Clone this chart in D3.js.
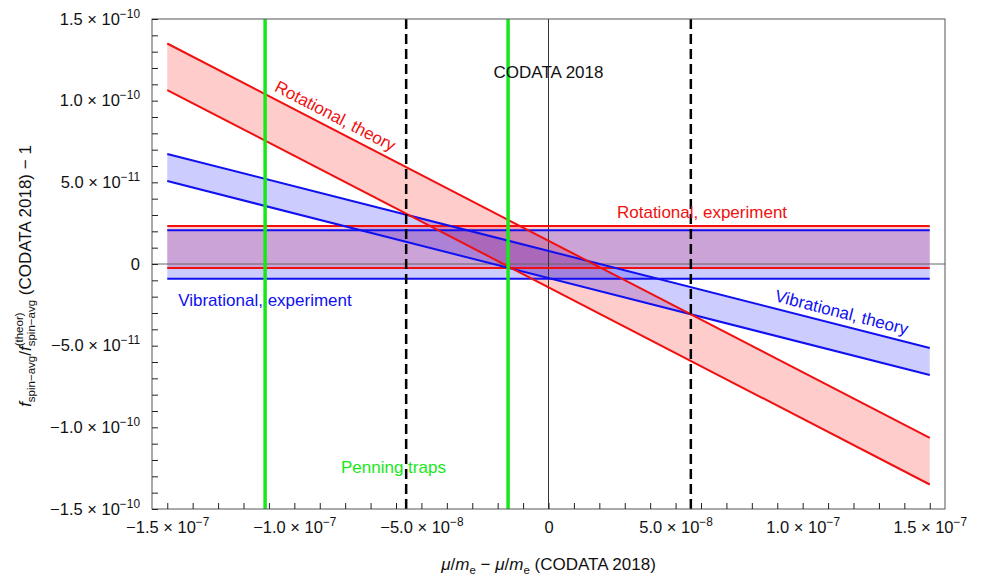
<!DOCTYPE html>
<html>
<head>
<meta charset="utf-8">
<script src="https://cdn.jsdelivr.net/npm/d3@7"></script>
<style>
  body { margin: 0; background: #fff; }
  svg { font-family: "Liberation Sans", Arial, sans-serif; }
</style>
</head>
<body>
<div id="chart"></div>
<script>
// values
const xEnds = [-1.5e-7, 1.5e-7];
const rotTheoryUpper = [1.35e-10, -1.065e-10];
const rotTheoryLower = [1.065e-10, -1.35e-10];
const vibTheoryUpper = [6.74e-11, -5.14e-11];
const vibTheoryLower = [5.08e-11, -6.8e-11];
const rotExp = [2.33e-11, -2.4e-12];
const vibExp = [2.06e-11, -9.0e-12];
const penningX = [-1.115e-7, -1.59e-8];
const codataX = [-5.6e-8, 5.6e-8];
const xTickLabels = [-1.5e-7, -1.0e-7, -5.0e-8, 0, 5.0e-8, 1.0e-7, 1.5e-7];
const yTickLabels = [-1.5e-10, -1.0e-10, -5.0e-11, 0, 5.0e-11, 1.0e-10, 1.5e-10];

const red = "#f01010", blue = "#1010f0", green = "#18e818";

const W = 985, H = 577;
const margin = { top: 19, right: 40, bottom: 68, left: 152 };

const svg = d3.select("#chart").append("svg")
  .attr("width", W).attr("height", H);

const x = d3.scaleLinear().domain([-1.56e-7, 1.56e-7]).range([margin.left, W - margin.right]);
const y = d3.scaleLinear().domain([-1.5e-10, 1.5e-10]).range([H - margin.bottom, margin.top]);

const plot = svg.append("g");

// bands
function slopedBand(up, lo, color) {
  const pts = xEnds.map((xv, i) => ({ x: xv, a: up[i], b: lo[i] }));
  plot.append("path").datum(pts)
    .attr("d", d3.area().x(d => x(d.x)).y0(d => y(d.b)).y1(d => y(d.a)))
    .attr("fill", color).attr("fill-opacity", 0.2);
}
function flatBand(lim, color) {
  plot.append("rect")
    .attr("x", x(xEnds[0])).attr("width", x(xEnds[1]) - x(xEnds[0]))
    .attr("y", y(lim[0])).attr("height", y(lim[1]) - y(lim[0]))
    .attr("fill", color).attr("fill-opacity", 0.2);
}
slopedBand(rotTheoryUpper, rotTheoryLower, "#ff0000");
slopedBand(vibTheoryUpper, vibTheoryLower, "#0000ff");
flatBand(rotExp, "#ff0000");
flatBand(vibExp, "#0000ff");

// zero lines
plot.append("line").attr("x1", x.range()[0]).attr("x2", x.range()[1])
  .attr("y1", y(0)).attr("y2", y(0)).attr("stroke", "#666").attr("stroke-width", 1);
plot.append("line").attr("x1", x(0)).attr("x2", x(0))
  .attr("y1", y.range()[0]).attr("y2", y.range()[1]).attr("stroke", "#333").attr("stroke-width", 1);

// band edges
const line = d3.line().x(d => x(d[0])).y(d => y(d[1]));
function edge(vals, color) {
  plot.append("path").datum(xEnds.map((xv, i) => [xv, vals[i]]))
    .attr("d", line).attr("fill", "none").attr("stroke", color).attr("stroke-width", 2);
}
[vibExp[0], vibExp[1]].forEach(v => edge([v, v], blue));
[rotExp[0], rotExp[1]].forEach(v => edge([v, v], red));
edge(vibTheoryUpper, blue);
edge(vibTheoryLower, blue);
edge(rotTheoryUpper, red);
edge(rotTheoryLower, red);

// vertical markers
codataX.forEach(v => {
  plot.append("line").attr("x1", x(v)).attr("x2", x(v))
    .attr("y1", y.range()[0]).attr("y2", y.range()[1])
    .attr("stroke", "#000").attr("stroke-width", 2.5).attr("stroke-dasharray", "10,5");
});
penningX.forEach(v => {
  plot.append("line").attr("x1", x(v)).attr("x2", x(v))
    .attr("y1", y.range()[0]).attr("y2", y.range()[1])
    .attr("stroke", green).attr("stroke-width", 3.5);
});

// frame
svg.append("rect")
  .attr("x", x.range()[0]).attr("y", y.range()[1])
  .attr("width", x.range()[1] - x.range()[0]).attr("height", y.range()[0] - y.range()[1])
  .attr("fill", "none").attr("stroke", "#555").attr("stroke-width", 1);

// scientific labels like 1.5 x 10^-10
function sci(sel, v) {
  sel.text(null);
  if (Math.abs(v) < 1e-20) { sel.append("tspan").text("0"); return; }
  const e = Math.floor(Math.log10(Math.abs(v)) + 1e-9);
  const m = v / Math.pow(10, e);
  sel.append("tspan").text(m.toFixed(1).replace("-", "\u2212") + " \u00d7 10");
  sel.append("tspan").attr("font-size", "0.72em").attr("dy", "-0.6em")
    .text(String(e).replace("-", "\u2212"));
}
const near = (a, b) => Math.abs(a - b) < 1e-22;

// axes
const xTicks = d3.range(-15, 16).map(i => i * 1e-8);
const gx = svg.append("g").attr("transform", `translate(0,${y.range()[0]})`)
  .call(d3.axisBottom(x).tickValues(xTicks).tickSize(-6).tickPadding(12).tickFormat(""));
gx.select(".domain").remove();
gx.selectAll(".tick line").attr("stroke", "#222");
gx.selectAll(".tick text").each(function (d) {
  if (xTickLabels.some(t => near(t, d))) sci(d3.select(this), d);
}).attr("font-size", 16.5).attr("fill", "#111").attr("font-family", "Liberation Sans");

const yTicks = d3.range(-15, 16).map(i => i * 1e-11);
const gy = svg.append("g").attr("transform", `translate(${x.range()[0]},0)`)
  .call(d3.axisLeft(y).tickValues(yTicks).tickSize(-6).tickPadding(12).tickFormat(""));
gy.select(".domain").remove();
gy.selectAll(".tick line").attr("stroke", "#222");
gy.selectAll(".tick text").each(function (d) {
  if (yTickLabels.some(t => near(t, d))) sci(d3.select(this), d);
}).attr("font-size", 16.5).attr("fill", "#111").attr("font-family", "Liberation Sans");

// in-plot labels
function flatLabel(txt, xv, yv, color, anchor) {
  svg.append("text").attr("x", x(xv)).attr("y", y(yv))
    .attr("text-anchor", anchor).attr("font-size", 17).attr("fill", color).text(txt);
}
flatLabel("CODATA 2018", 0, 1.14e-10, "#111", "middle");
flatLabel("Rotational, experiment", 6.04e-8, 2.82e-11, red, "middle");
flatLabel("Vibrational, experiment", -1.457e-7, -2.55e-11, blue, "start");
flatLabel("Penning traps", -6.1e-8, -1.28e-10, green, "middle");

function slopedLabel(txt, vals, xv, off, color) {
  const t = (xv - xEnds[0]) / (xEnds[1] - xEnds[0]);
  const yv = vals[0] + t * (vals[1] - vals[0]);
  const ang = Math.atan2(y(vals[1]) - y(vals[0]), x(xEnds[1]) - x(xEnds[0])) * 180 / Math.PI;
  svg.append("text")
    .attr("transform", `translate(${x(xv)},${y(yv)}) rotate(${ang})`)
    .attr("y", -off).attr("font-size", 17).attr("fill", color).text(txt);
}
slopedLabel("Rotational, theory", rotTheoryUpper, -1.095e-7, 7, red);
slopedLabel("Vibrational, theory", vibTheoryUpper, 8.8e-8, 7, blue);

// y axis title
const yt = svg.append("text")
  .attr("transform", `translate(31,${(y.range()[0] + y.range()[1]) / 2 + 12}) rotate(-90)`)
  .attr("text-anchor", "middle").attr("font-size", 17).attr("fill", "#111");
yt.append("tspan").attr("font-style", "italic").text("f");
yt.append("tspan").attr("font-size", 11.5).attr("dy", 4).text("spin\u2212avg");
yt.append("tspan").attr("dy", -4).text("/");
yt.append("tspan").attr("font-style", "italic").text("f");
const sup = yt.append("tspan").attr("font-size", 11.5).attr("dy", -8).text("(theor)");
const supW = sup.node().getComputedTextLength();
yt.append("tspan").attr("font-size", 11.5).attr("dy", 12).attr("dx", -supW).text("spin\u2212avg");
yt.append("tspan").attr("dy", -4).text(" (CODATA 2018) \u2212 1");

// x axis title
const xt = svg.append("text")
  .attr("x", x(0)).attr("y", H - 7)
  .attr("text-anchor", "middle").attr("font-size", 17).attr("fill", "#111");
xt.append("tspan").attr("font-style", "italic").text("\u03bc");
xt.append("tspan").text("/");
xt.append("tspan").attr("font-style", "italic").text("m");
xt.append("tspan").attr("font-size", 11.5).attr("dy", 4).text("e");
xt.append("tspan").attr("dy", -4).text(" \u2212 ");
xt.append("tspan").attr("font-style", "italic").text("\u03bc");
xt.append("tspan").text("/");
xt.append("tspan").attr("font-style", "italic").text("m");
xt.append("tspan").attr("font-size", 11.5).attr("dy", 4).text("e");
xt.append("tspan").attr("dy", -4).text(" (CODATA 2018)");
</script>
</body>
</html>
